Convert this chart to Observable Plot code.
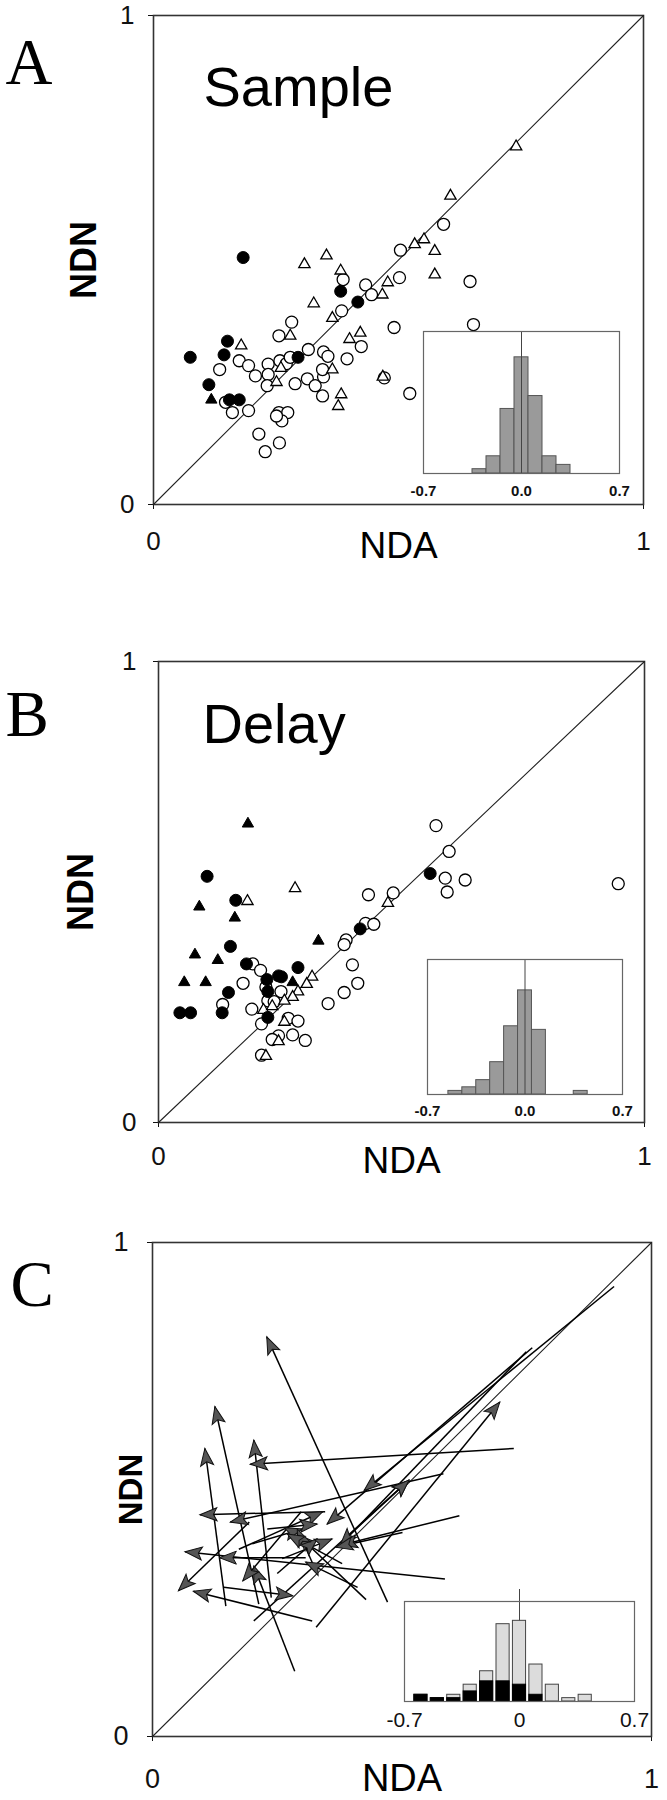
<!DOCTYPE html>
<html><head><meta charset="utf-8">
<script src="https://cdn.jsdelivr.net/npm/d3@7"></script>
<script src="https://cdn.jsdelivr.net/npm/@observablehq/plot@0.6"></script>
<style>
body{margin:0;background:#fff;}
#wrap{position:relative;width:667px;height:1800px;}
#wrap svg{position:absolute;overflow:visible;}
</style></head><body><div id="wrap"></div>
<script>
// ---------- data ----------
const axisTicks = [0, 1];
const insetTicks = [-0.7, 0, 0.7];
const axisLabelX = "NDA";
const axisLabelY = "NDN";
const panelLetters = ["A", "B", "C"];
const panelTitles = ["Sample", "Delay"];

// Panel A (Sample): [NDA, NDN]
const sampleOpenCircles = [
  [0.592,0.573],[0.504,0.520],[0.502,0.464],[0.433,0.449],[0.445,0.429],[0.646,0.456],
  [0.387,0.460],[0.384,0.396],[0.282,0.373],[0.256,0.345],[0.316,0.317],[0.347,0.312],
  [0.356,0.303],[0.395,0.298],[0.424,0.323],[0.491,0.362],[0.653,0.368],[0.523,0.227],
  [0.471,0.259],[0.175,0.294],[0.194,0.284],[0.135,0.276],[0.208,0.263],[0.234,0.287],
  [0.234,0.266],[0.258,0.294],[0.271,0.288],[0.279,0.301],[0.232,0.243],[0.289,0.247],
  [0.314,0.257],[0.330,0.243],[0.347,0.261],[0.345,0.276],[0.345,0.222],[0.147,0.209],
  [0.161,0.188],[0.194,0.192],[0.256,0.188],[0.274,0.188],[0.262,0.171],[0.215,0.144],
  [0.257,0.126],[0.228,0.108],[0.251,0.181]
];
const sampleOpenTriangles = [
  [0.740,0.732],[0.606,0.631],[0.533,0.532],[0.552,0.542],[0.574,0.518],[0.574,0.470],
  [0.353,0.509],[0.308,0.491],[0.382,0.478],[0.478,0.454],[0.467,0.429],[0.327,0.411],
  [0.365,0.381],[0.422,0.351],[0.400,0.338],[0.279,0.345],[0.179,0.325],[0.260,0.279],
  [0.251,0.250],[0.365,0.276],[0.468,0.261],[0.383,0.225],[0.377,0.201]
];
const sampleFilledCircles = [
  [0.183,0.505],[0.075,0.301],[0.151,0.334],[0.144,0.306],[0.113,0.245],[0.155,0.214],
  [0.175,0.214],[0.382,0.436],[0.417,0.414],[0.295,0.301]
];
const sampleFilledTriangles = [[0.118,0.214]];
const sampleHistBins = [-0.3,-0.2,-0.1,0,0.1,0.2,0.3];
const sampleHistCounts = [1,4,15,27,18,4,2];

// Panel B (Delay): [NDA, NDN]
const delayOpenCircles = [
  [0.571,0.644],[0.598,0.588],[0.590,0.530],[0.631,0.526],[0.594,0.500],[0.946,0.518],
  [0.432,0.494],[0.483,0.498],[0.426,0.432],[0.443,0.430],[0.386,0.396],[0.382,0.386],
  [0.399,0.342],[0.410,0.302],[0.382,0.282],[0.349,0.258],[0.194,0.344],[0.210,0.330],
  [0.174,0.302],[0.132,0.256],[0.192,0.246],[0.221,0.294],[0.225,0.264],[0.252,0.284],
  [0.238,0.262],[0.212,0.214],[0.267,0.226],[0.287,0.220],[0.276,0.190],[0.302,0.178],
  [0.247,0.188],[0.234,0.180],[0.212,0.146]
];
const delayOpenTriangles = [
  [0.183,0.480],[0.281,0.508],[0.472,0.476],[0.316,0.316],[0.305,0.300],[0.287,0.284],
  [0.276,0.272],[0.259,0.264],[0.216,0.244],[0.234,0.252],[0.259,0.218],[0.247,0.176],
  [0.221,0.144]
];
const delayFilledCircles = [
  [0.100,0.534],[0.159,0.482],[0.148,0.382],[0.181,0.344],[0.144,0.282],[0.044,0.238],
  [0.066,0.238],[0.131,0.238],[0.223,0.310],[0.247,0.318],[0.253,0.316],[0.287,0.336],
  [0.225,0.284],[0.225,0.228],[0.415,0.420],[0.559,0.540]
];
const delayFilledTriangles = [
  [0.184,0.648],[0.084,0.468],[0.157,0.444],[0.329,0.394],[0.075,0.364],[0.122,0.352],
  [0.053,0.304],[0.097,0.304],[0.276,0.304]
];
const delayHistBins = [-0.5,-0.4,-0.3,-0.2,-0.1,0,0.1,0.2,0.3,0.4];
const delayHistCounts = [1,2,4,9,19,29,18,0,0,1];

// Panel C: arrows from sample [NDA, NDN] to delay [NDA, NDN]
const shiftArrows = [
  [0.925,0.911,0.424,0.498],[0.761,0.787,0.350,0.430],[0.749,0.779,0.376,0.387],
  [0.328,0.221,0.696,0.677],[0.203,0.234,0.514,0.519],[0.386,0.400,0.514,0.519],
  [0.471,0.272,0.229,0.809],[0.147,0.264,0.105,0.583],[0.213,0.268,0.125,0.668],
  [0.238,0.281,0.203,0.600],[0.724,0.583,0.196,0.551],[0.583,0.532,0.156,0.434],
  [0.615,0.447,0.376,0.387],[0.501,0.413,0.367,0.383],[0.586,0.319,0.065,0.374],
  [0.320,0.234,0.082,0.294],[0.194,0.434,0.052,0.295],[0.346,0.455,0.095,0.449],
  [0.143,0.302,0.281,0.285],[0.285,0.132,0.203,0.345],[0.428,0.277,0.290,0.409],
  [0.411,0.302,0.307,0.353],[0.173,0.379,0.341,0.455],[0.200,0.390,0.300,0.420],
  [0.250,0.330,0.330,0.400],[0.307,0.362,0.134,0.362],[0.298,0.455,0.181,0.315],
  [0.230,0.420,0.330,0.430],[0.330,0.330,0.290,0.420],[0.380,0.350,0.270,0.410],
  [0.260,0.360,0.360,0.400]
];
const shiftHistBins = [-0.6,-0.5,-0.4,-0.3,-0.2,-0.1,0,0.1,0.2,0.3,0.4];
const shiftHistBlack = [2,1,1,3,6,6,5,2,0,0,0];
const shiftHistTotal = [2,1,2,5,9,23,24,11,5,1,2];

// ---------- drawing ----------
const W = 667;
const wrap = document.getElementById("wrap");
const SANS = "Liberation Sans, Arial, Helvetica, sans-serif";
const SERIF = "Liberation Serif, Times New Roman, serif";

function place(svg, left, top) {
  svg.style.left = left + "px";
  svg.style.top = top + "px";
  svg.style.background = "transparent";
  wrap.appendChild(svg);
}

function mainPlot(c, marks) {
  const svg = Plot.plot({
    width: W, height: c.height,
    marginLeft: c.ml, marginRight: c.mr, marginTop: c.mt, marginBottom: c.mb,
    style: {background: "transparent", fontFamily: SANS, fontSize: c.tickFont + "px", color: "#111", maxWidth: "none"},
    x: {domain: [0, 1], ticks: axisTicks, tickFormat: d => String(d), tickSize: 5, tickPadding: c.xPad, label: null},
    y: {domain: [0, 1], ticks: axisTicks, tickFormat: d => String(d), tickSize: 5, tickPadding: c.yPad, label: null},
    marks: [
      Plot.frame({stroke: "#333", strokeWidth: 1.6}),
      Plot.line(axisTicks, {x: d => d, y: d => d, stroke: "#222", strokeWidth: 1.1}),
      ...marks,
      Plot.text([panelLetters[c.idx]], {frameAnchor: "top-left", text: d => d, dx: c.letterDx, dy: c.letterDy,
        textAnchor: "start", lineAnchor: "bottom", fontSize: 65, fontFamily: SERIF, fill: "#000"}),
      Plot.text([axisLabelX], {frameAnchor: "bottom", text: d => d, dy: c.ndaDy, textAnchor: "middle", lineAnchor: "bottom",
        fontSize: c.labelFont, fontFamily: SANS, fill: "#000"}),
      Plot.text([axisLabelY], {frameAnchor: "left", text: d => d, dx: c.ndnDx, rotate: -90, textAnchor: "middle", lineAnchor: "middle",
        fontSize: c.ndnFont, fontWeight: "bold", fontFamily: SANS, fill: "#000"}),
      ...(c.title ? [Plot.text([c.title], {frameAnchor: "top-left", text: d => d, dx: c.titleDx, dy: c.titleDy,
        textAnchor: "start", lineAnchor: "bottom", fontSize: 56, fontFamily: SANS, fill: "#000"})] : [])
    ]
  });
  place(svg, 0, c.top);
}

function scatterMarks(openC, openT, fillC, fillT) {
  const P = {x: d => d[0], y: d => d[1]};
  return [
    Plot.dot(openC, {...P, r: 6, fill: "white", stroke: "#000", strokeWidth: 1.3}),
    Plot.dot(openT, {...P, symbol: "triangle", r: 4.2, fill: "white", stroke: "#000", strokeWidth: 1.3}),
    Plot.dot(fillC, {...P, r: 6, fill: "#000", stroke: "#000", strokeWidth: 1}),
    Plot.dot(fillT, {...P, symbol: "triangle", r: 4.2, fill: "#000", stroke: "#000", strokeWidth: 1})
  ];
}

function insetPlot(c, marks) {
  const ml = 30, mr = 30, mt = 12, mb = 34;
  const svg = Plot.plot({
    width: ml + c.w + mr, height: mt + c.h + mb,
    marginLeft: ml, marginRight: mr, marginTop: mt, marginBottom: mb,
    style: {background: "transparent", fontFamily: SANS, fontSize: c.font + "px", fontWeight: c.bold ? "bold" : "normal", color: "#111", maxWidth: "none"},
    x: {domain: [-0.7, 0.7], ticks: insetTicks, tickSize: 0, tickPadding: c.pad, tickFormat: c.fmt, label: null},
    y: {domain: [0, c.ymax], axis: null},
    marks: [...marks, Plot.frame({stroke: "#666", strokeWidth: 1.2})]
  });
  place(svg, c.left - ml, c.top - mt);
}

function histRows(bins, counts) {
  return bins.map((b, i) => ({b, n: counts[i]})).filter(d => d.n > 0);
}

// Panel A
mainPlot({idx: 0, top: 0, height: 570, ml: 153, mr: 24, mt: 15, mb: 66, tickFont: 26,
  xPad: 22, yPad: 14, letterDx: -148, letterDy: 68, ndaDy: 53, labelFont: 37, ndnDx: -69, ndnFont: 36,
  title: panelTitles[0], titleDx: 50, titleDy: 90},
  scatterMarks(sampleOpenCircles, sampleOpenTriangles, sampleFilledCircles, sampleFilledTriangles));

// Panel B
mainPlot({idx: 1, top: 600, height: 580, ml: 158, mr: 23, mt: 61, mb: 58, tickFont: 26,
  xPad: 19, yPad: 17, letterDx: -153, letterDy: 74, ndaDy: 50, labelFont: 37, ndnDx: -77, ndnFont: 36,
  title: panelTitles[1], titleDx: 44, titleDy: 81},
  scatterMarks(delayOpenCircles, delayOpenTriangles, delayFilledCircles, delayFilledTriangles));

// Panel C
const arrowHead = {
  draw(ctx) {
    ctx.moveTo(0, 0); ctx.lineTo(6.5, 17); ctx.lineTo(0, 13.5); ctx.lineTo(-6.5, 17); ctx.closePath();
  }
};
mainPlot({idx: 2, top: 1190, height: 610, ml: 152, mr: 16, mt: 52, mb: 64, tickFont: 27,
  xPad: 27, yPad: 19, letterDx: -142, letterDy: 63, ndaDy: 54, labelFont: 38, ndnDx: -21, ndnFont: 33},
  [Plot.link(shiftArrows, {x1: d => d[0], y1: d => d[1], x2: d => d[2], y2: d => d[3], stroke: "#000", strokeWidth: 1.5}),
   Plot.dot(shiftArrows, {x: d => d[2], y: d => d[3], symbol: arrowHead, r: 1,
     rotate: d => Math.atan2(d[2] - d[0], d[3] - d[1]) * 180 / Math.PI,
     fill: "#555", stroke: "#111", strokeWidth: 1})]);

// Insets
const fmt1 = d => d.toFixed(1);
insetPlot({left: 423, top: 331, w: 196, h: 142, ymax: 33, font: 15, bold: true, pad: 12, fmt: fmt1},
  [Plot.rectY(histRows(sampleHistBins, sampleHistCounts), {x1: d => d.b - 0.05, x2: d => d.b + 0.05, y: d => d.n,
     fill: "#9a9a9a", stroke: "#555", strokeWidth: 1}),
   Plot.ruleX([0], {stroke: "#444", strokeWidth: 1})]);

insetPlot({left: 427, top: 959, w: 195, h: 135, ymax: 37.6, font: 15, bold: true, pad: 11, fmt: fmt1},
  [Plot.rectY(histRows(delayHistBins, delayHistCounts), {x1: d => d.b - 0.05, x2: d => d.b + 0.05, y: d => d.n,
     fill: "#9a9a9a", stroke: "#555", strokeWidth: 1}),
   Plot.ruleX([0], {stroke: "#444", strokeWidth: 1})]);

const shiftRows = shiftHistBins.map((b, i) => ({b, k: shiftHistBlack[i], t: shiftHistTotal[i]}));
insetPlot({left: 404, top: 1601, w: 230, h: 100, ymax: 29.75, font: 21, bold: false, pad: 11, fmt: d => d === 0 ? "0" : String(d)},
  [Plot.ruleX([0], {y1: 0, y2: 29.75 * 1.12, stroke: "#444", strokeWidth: 1, clip: false}),
   Plot.rectY(shiftRows, {x1: d => d.b - 0.04, x2: d => d.b + 0.04, y1: 0, y2: d => d.t, fill: "#dcdcdc", stroke: "#444", strokeWidth: 1}),
   Plot.rectY(shiftRows.filter(d => d.k > 0), {x1: d => d.b - 0.04, x2: d => d.b + 0.04, y1: 0, y2: d => d.k, fill: "#000", stroke: "#000", strokeWidth: 1})]);
</script></body></html>
